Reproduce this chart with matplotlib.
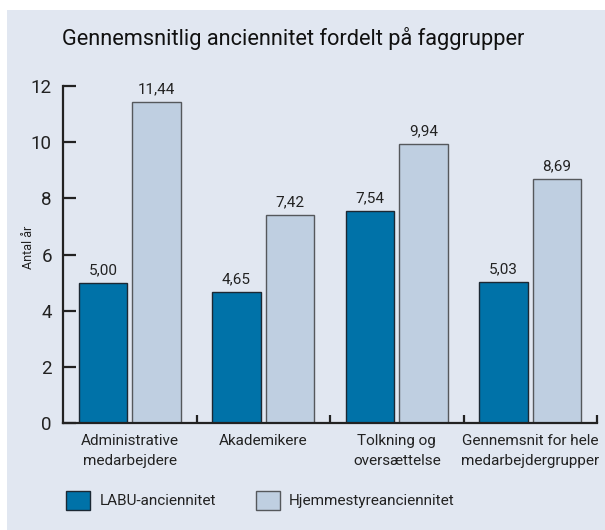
import numpy as np
import matplotlib.pyplot as plt
from matplotlib.patches import Rectangle, Patch

# data
groups = ['Administrative\nmedarbejdere', 'Akademikere', 'Tolkning og\noversættelse',
          'Gennemsnit for hele\nmedarbejdergrupper']
labu = [5.00, 4.65, 7.54, 5.03]
hjemme = [11.44, 7.42, 9.94, 8.69]
series_names = ['LABU-anciennitet', 'Hjemmestyreanciennitet']

dark = '#0072a8'
light = '#bfcfe1'
bg = '#e1e7f1'
txt = '#222222'

plt.rcParams['font.family'] = ['Roboto', 'DejaVu Sans']

fig = plt.figure(figsize=(6.05, 5.3), dpi=100)
fig.patch.set_facecolor('white')
fig.patches.append(Rectangle((7 / 605, 0), 1, 520 / 530, transform=fig.transFigure,
                             facecolor=bg, edgecolor='none', zorder=-10))

ax = fig.add_axes([63 / 605, 107 / 530, 534 / 605, 337 / 530])
ax.set_facecolor('none')

x = np.arange(len(groups)) + 0.5
w = 0.365
b1 = ax.bar(x - 0.2, labu, w, color=dark, edgecolor='#1c2833', linewidth=1)
b2 = ax.bar(x + 0.2, hjemme, w, color=light, edgecolor='#55585c', linewidth=1)

for bars, vals in ((b1, labu), (b2, hjemme)):
    for r, v in zip(bars, vals):
        ax.text(r.get_x() + r.get_width() / 2, v + 0.2, ('%.2f' % v).replace('.', ','),
                ha='center', va='bottom', fontsize=11, color=txt)

ax.set_xlim(0, 4)
ax.set_ylim(0, 12)
ax.set_yticks(range(0, 13, 2))
ax.set_xticks([1, 2, 3, 4])
ax.set_xticklabels([])
for s in ['top', 'right']:
    ax.spines[s].set_visible(False)
for s in ['left', 'bottom']:
    ax.spines[s].set_linewidth(1.6)
    ax.spines[s].set_color('#222222')
ax.tick_params(axis='y', direction='in', length=9, width=1.6, labelsize=13.5,
               colors='#222222', pad=8)
ax.tick_params(axis='x', direction='in', length=6, width=1.6, colors='#222222')

for xi, g in zip(x, groups):
    ax.text(xi, -0.4, g, ha='center', va='top', fontsize=11, color=txt,
            linespacing=1.55, clip_on=False)

ax.set_ylabel('Antal år', fontsize=9, color=txt)
ax.yaxis.set_label_coords(-0.052, 0.52)

fig.text(62 / 605, 1 - 38 / 530, 'Gennemsnitlig anciennitet fordelt på faggrupper',
         fontsize=15.7, color='#111111', va='center', ha='left')

handles = [Patch(facecolor=dark, edgecolor='#1c2833'),
           Patch(facecolor=light, edgecolor='#55585c')]
fig.legend(handles, series_names, loc='lower left', bbox_to_anchor=(52 / 605, 6 / 530),
           ncol=2, frameon=False, fontsize=11, handlelength=1.6, handleheight=1.6,
           columnspacing=2.6, handletextpad=0.6, labelcolor=txt)

fig.savefig('out.png', dpi=100)
